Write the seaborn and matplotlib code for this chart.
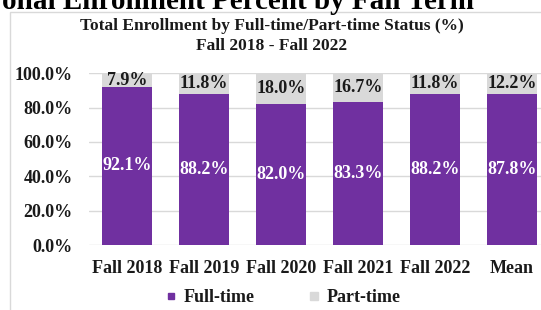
import matplotlib
matplotlib.use("Agg")
import matplotlib.pyplot as plt
import seaborn as sns
import pandas as pd
from matplotlib.lines import Line2D
from matplotlib.patches import Rectangle

# Data
terms = ["Fall 2018", "Fall 2019", "Fall 2020", "Fall 2021", "Fall 2022", "Mean"]
full_time = [92.1, 88.2, 82.0, 83.3, 88.2, 87.8]
part_time = [7.9, 11.8, 18.0, 16.7, 11.8, 12.2]
y_ticks = [0, 20, 40, 60, 80, 100]

PURPLE = "#7030A0"
GRAY = "#D9D9D9"
TEXT = "#1a1a1a"

sns.set_theme(style="white")
plt.rcParams["font.family"] = ["Liberation Serif", "DejaVu Serif"]
plt.rcParams["font.weight"] = "bold"

df = pd.DataFrame({"term": terms, "full": full_time, "part": part_time})
df["total"] = df["full"] + df["part"]

fig = plt.figure(figsize=(5.41, 3.10), dpi=100)
ax = fig.add_axes([88.5 / 541, 1 - 245 / 310, 462 / 541, 171.7 / 310])

# stacked bars: grey total behind, purple full-time in front
sns.barplot(data=df, x="term", y="total", color=GRAY, width=0.65,
            saturation=1, linewidth=0, ax=ax, zorder=2)
sns.barplot(data=df, x="term", y="full", color=PURPLE, width=0.65,
            saturation=1, linewidth=0, ax=ax, zorder=3)

ax.set_ylim(0, 100)
ax.set_xlim(-0.5, len(terms) - 0.5)
ax.set_yticks(y_ticks)
ax.set_yticklabels([f"{v:.1f}%" for v in y_ticks])
ax.yaxis.grid(True, color=GRAY, lw=1, zorder=0)
ax.set_axisbelow(True)
for s in ax.spines.values():
    s.set_visible(False)
ax.set_xlabel("")
ax.set_ylabel("")
ax.tick_params(axis="y", length=0, pad=11.5, labelsize=13, labelcolor=TEXT)
ax.tick_params(axis="x", length=0, pad=10.5, labelsize=13, labelcolor=TEXT)

# value labels centred in each segment
for i, (f, p) in enumerate(zip(full_time, part_time)):
    ax.text(i, f / 2, f"{f:.1f}%", ha="center", va="center", color="white",
            fontsize=13, fontweight="bold", zorder=5)
    ax.text(i, f + p / 2, f"{p:.1f}%", ha="center", va="center", color=TEXT,
            fontsize=13, fontweight="bold", zorder=5)

# chart frame
fig.add_artist(Rectangle((10 / 541, -0.1), 1.2, 1.1 - 12 / 310,
                         transform=fig.transFigure, fill=False,
                         edgecolor=GRAY, lw=1))

# cut-off heading above the chart box
fig.text(474 / 541, 1 - 9 / 310, "onal Enrollment Percent by Fall Term",
         ha="right", va="baseline", fontsize=21, fontweight="bold", color="black")

fig.text(272 / 541, 1 - 26 / 310, "Total Enrollment by Full-time/Part-time Status (%)",
         ha="center", va="center", fontsize=12.5, fontweight="bold", color=TEXT)
fig.text(272 / 541, 1 - 46 / 310, "Fall 2018 - Fall 2022",
         ha="center", va="center", fontsize=12.5, fontweight="bold", color=TEXT)

handles = [Line2D([], [], marker="s", linestyle="", markersize=5, color=PURPLE),
           Line2D([], [], marker="s", linestyle="", markersize=6, color=GRAY)]
fig.legend(handles, ["Full-time", "Part-time"], loc="center",
           bbox_to_anchor=(283 / 541, 1 - 298 / 310), ncol=2, frameon=False,
           handlelength=0.6, handletextpad=0.4, columnspacing=3.0,
           prop={"size": 13, "weight": "bold"}, labelcolor=TEXT)

fig.savefig("out.png", dpi=100)
